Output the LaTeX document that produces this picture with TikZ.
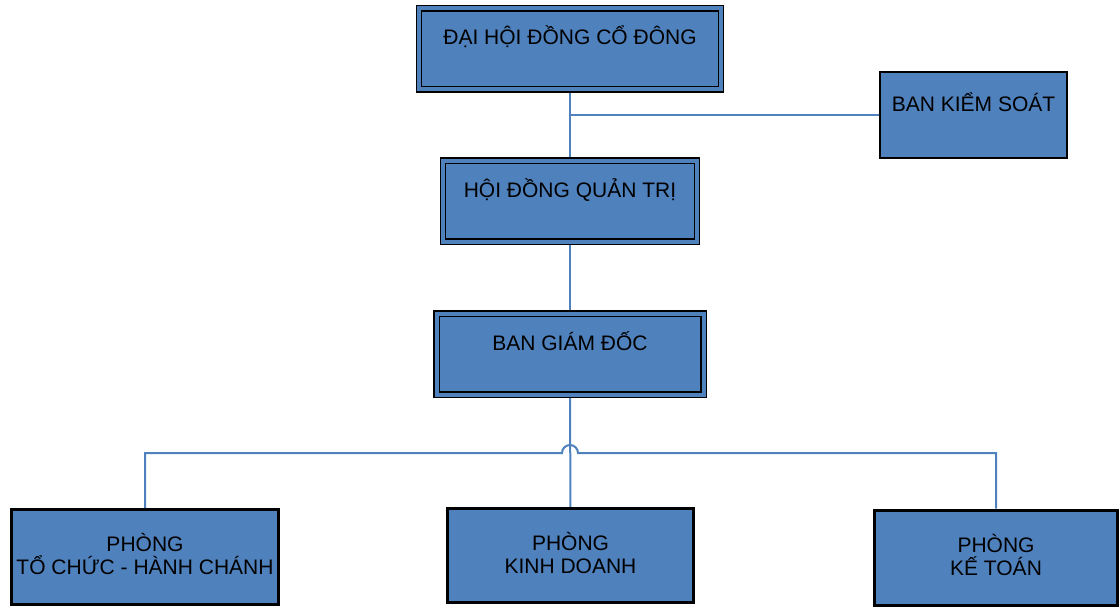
\documentclass[tikz,border=0pt]{standalone}
\usepackage{fontspec}
\setmainfont{Liberation Sans}
\usetikzlibrary{backgrounds}
\definecolor{orgblue}{HTML}{4F81BD}
\tikzset{
    orgbox/.style={draw=black, fill=orgblue, line width=2.5pt, inner sep=0pt,
        align=center, font=\fontsize{21pt}{23pt}\selectfont},
    hightext/.style={text height=16pt, text depth=24pt},
    dblbox/.style={orgbox, hightext, line width=1.3pt, double=orgblue, double distance=4pt},
    deptbox/.style={orgbox, line width=3pt, text depth=6pt},
    link/.style={draw=orgblue, line width=2pt},
}
\begin{document}
\begin{tikzpicture}[x=1pt,y=-1pt]
    \useasboundingbox (0,0) rectangle (1120,610);
    % upper levels
    \node[dblbox, minimum width=302pt, minimum height=81pt] (dhdcd) at (570,49) {ĐẠI HỘI ĐỒNG CỔ ĐÔNG};
    \node[orgbox, hightext, minimum width=187pt, minimum height=86pt] (bks) at (973.5,115) {BAN KIỂM SOÁT};
    \node[dblbox, minimum width=254pt, minimum height=81pt] (hdqt) at (570,201) {HỘI ĐỒNG QUẢN TRỊ};
    \node[dblbox, minimum width=267pt, minimum height=81pt] (bgd) at (570,354) {BAN GIÁM ĐỐC};
    % departments
    \node[deptbox, minimum width=267pt, minimum height=95pt] (ptc) at (145,557) {PHÒNG\\TỔ CHỨC - HÀNH CHÁNH};
    \node[deptbox, minimum width=246pt, minimum height=94pt] (pkd) at (570.5,555.5) {PHÒNG\\KINH DOANH};
    \node[deptbox, minimum width=243pt, minimum height=95pt] (pkt) at (996,557.5) {PHÒNG\\KẾ TOÁN};
    \coordinate (hop) at (570,453);
    \begin{scope}[on background layer]
        \draw[link] (dhdcd) -- (hdqt);
        \draw[link] (bks.west) -- (bks.west -| dhdcd.south);
        \draw[link] (hdqt) -- (bgd);
        \draw[link] (bgd) -- (pkd);
        \draw[link] (ptc.north) |- ([xshift=-8pt]hop) arc[start angle=180, end angle=0, radius=8pt] -| (pkt.north);
    \end{scope}
\end{tikzpicture}
\end{document}
